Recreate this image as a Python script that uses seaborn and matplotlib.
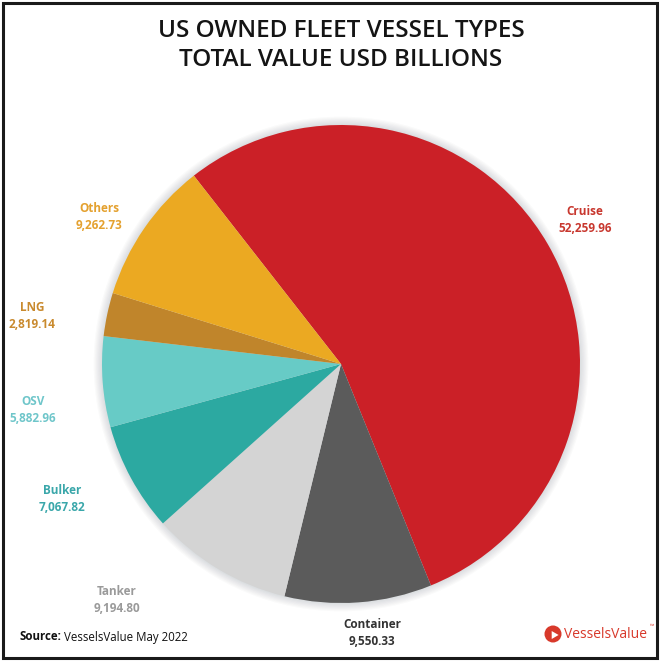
import matplotlib
matplotlib.use("Agg")
import matplotlib.pyplot as plt
from matplotlib.patches import Circle, Rectangle, RegularPolygon
import seaborn as sns

# Fleet value by vessel type (USD billions)
categories = ["Cruise", "Container", "Tanker", "Bulker", "OSV", "LNG", "Others"]
values = [52259.96, 9550.33, 9194.80, 7067.82, 5882.96, 2819.14, 9262.73]

slice_colors = ["#CB2027", "#5B5B5B", "#D4D4D4", "#2CA9A1", "#67CBC6", "#C0852B", "#EBA922"]
label_colors = ["#C8372E", "#333333", "#9A9A9A", "#3AA7AA", "#6FC6CA", "#C98A2E", "#E4A12F"]
# label centres in pixels (x, y from top)
label_pos = [(585, 220), (372, 633), (117, 600), (62, 499), (33, 410), (32, 316), (99, 217)]

sns.set_theme(style="white")
plt.rcParams["font.family"] = ["Open Sans", "DejaVu Sans"]

W, H = 660, 661
fig = plt.figure(figsize=(W / 100, H / 100), dpi=100)
fig.patch.set_facecolor("white")

cx, cy, r = 341, 364, 239
pad = 1.06
ax = fig.add_axes([(cx - r * pad) / W, (H - cy - r * pad) / H,
                   2 * r * pad / W, 2 * r * pad / H])
ax.axis("off")

# soft halo under the pie
for i in range(8):
    ax.add_patch(Circle((0.0, 0.0), 1.0 + 0.005 * i, color="#33414d",
                        alpha=0.025, lw=0, zorder=0))

ax.pie(values, colors=sns.color_palette(slice_colors), startangle=128,
       counterclock=False, radius=1.0,
       wedgeprops=dict(linewidth=0, zorder=1))
ax.set_xlim(-pad, pad)
ax.set_ylim(-pad, pad)
ax.set_aspect("equal")

# category labels with values
for name, val, col, (px, py) in zip(categories, values, label_colors, label_pos):
    fig.text(px / W, 1 - py / H, f"{name}\n{val:,.2f}", ha="center", va="center",
             color=col, fontsize=8.5, fontweight="bold", linespacing=1.45)

# title
fig.text(341 / W, 1 - 31 / H, "US OWNED FLEET VESSEL TYPES", ha="center", va="center",
         fontsize=17.5, fontweight="semibold", color="#141414")
fig.text(341 / W, 1 - 60 / H, "TOTAL VALUE USD BILLIONS", ha="center", va="center",
         fontsize=17.5, fontweight="semibold", color="#141414")

# source line
src = fig.text(19 / W, 1 - 637 / H, "Source:", ha="left", va="center",
               fontsize=8.3, fontweight="bold", color="#111111")
fig.canvas.draw()
bb = src.get_window_extent()
fig.text((bb.x1 + 3) / W, 1 - 637 / H, "VesselsValue May 2022", ha="left", va="center",
         fontsize=8.3, color="#111111")

# brand mark
lax = fig.add_axes([0, 0, 1, 1], facecolor="none")
lax.set_xlim(0, W)
lax.set_ylim(H, 0)
lax.axis("off")
lax.add_patch(Circle((553, 634), 8.5, color="#D8392B", lw=0))
lax.add_patch(RegularPolygon((554, 635), 3, radius=4.6, orientation=0.52,
                             color="white", lw=0))
lax.text(564, 634, "VesselsValue", ha="left", va="center", fontsize=10,
         color="#D8392B", fontweight="medium")
lax.text(650, 627, "™", ha="left", va="center", fontsize=4, color="#D8392B")

# outer frame
lax.add_patch(Rectangle((3, 3), W - 6, H - 6, fill=False, ec="#1A1A1A", lw=2.2))

fig.savefig("out.png", dpi=100, facecolor="white")
